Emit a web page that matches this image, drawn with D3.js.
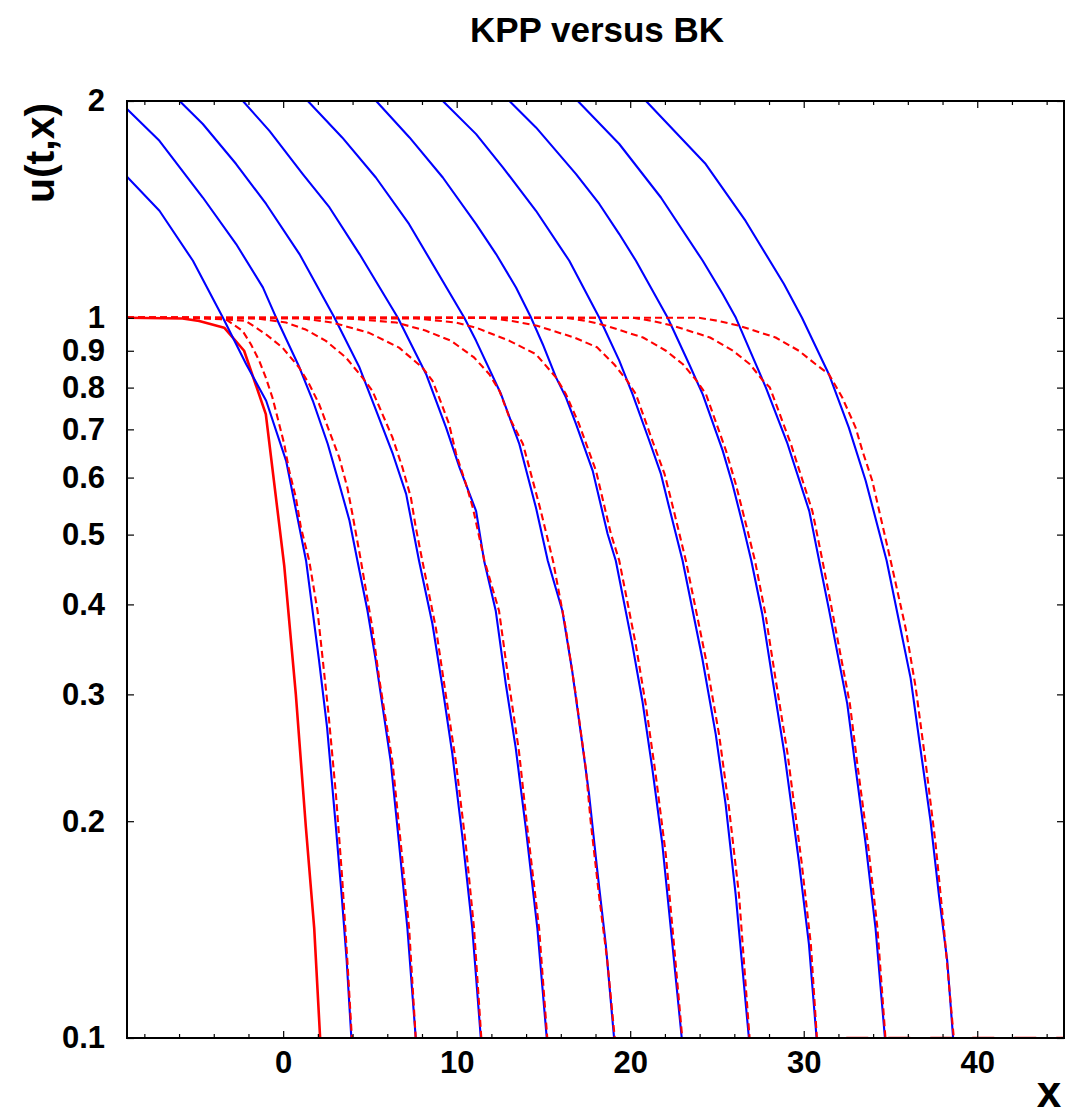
<!DOCTYPE html>
<html><head><meta charset="utf-8">
<script src="https://cdn.jsdelivr.net/npm/d3@7"></script>
<style>
body{margin:0;background:#fff}
svg{display:block}
text{font-family:"Liberation Sans",Arial,Helvetica,sans-serif;font-weight:bold;fill:#000}
</style>
</head><body>
<svg id="chart" width="1070" height="1119"></svg>
<script>
// ---------- data ----------
const titleText = "KPP versus BK";
const xLabelText = "x";
const yLabelText = "u(t,x)";
const xMajorTicks = [0, 10, 20, 30, 40];
const xMinorTicks = [-8, -6, -4, -2, 2, 4, 6, 8, 12, 14, 16, 18, 22, 24, 26, 28, 32, 34, 36, 38, 42, 44];
const yTicks = [0.1, 0.2, 0.3, 0.4, 0.5, 0.6, 0.7, 0.8, 0.9, 1, 2];

// initial condition (red solid)
const initialCondition = [[-9,1.0],[-5.8,0.998],[-4.84,0.99],[-3.4,0.969],[-2.25,0.9],[-1.0,0.735],[0.06,0.453],[0.73,0.30],[1.31,0.196],[1.79,0.142],[2.13,0.1]];

// BK solutions (blue solid)
const bk1 = [[-9,1.57],[-7.13,1.408],[-5.2,1.2],[-3.47,1.0],[-2.13,0.862],[-0.98,0.767],[0.17,0.633],[1.32,0.46],[2.07,0.334],[2.53,0.27],[3.04,0.196],[3.37,0.158],[3.66,0.128],[3.93,0.1]];
const bk2 = [[-9,1.95],[-7.13,1.761],[-4.63,1.469],[-2.71,1.266],[-1.17,1.102],[-0.4,1.0],[0.94,0.853],[1.71,0.767],[2.57,0.668],[3.24,0.587],[3.82,0.523],[4.28,0.46],[4.86,0.392],[5.34,0.334],[6.2,0.242],[6.68,0.186],[7.16,0.142],[7.64,0.1]];
const bk3 = [[-5.97,2.0],[-4.63,1.858],[-2.71,1.635],[-0.98,1.439],[0.94,1.226],[2.96,1.0],[4.4,0.853],[5.36,0.743],[6.32,0.647],[7.09,0.569],[7.83,0.46],[8.6,0.376],[9.18,0.307],[9.75,0.248],[10.33,0.19],[10.9,0.142],[11.39,0.1]];
const bk4 = [[-2.32,2.0],[-0.79,1.818],[1.13,1.583],[2.67,1.423],[4.4,1.226],[6.61,1.0],[8.24,0.835],[9.39,0.704],[10.16,0.62],[11.12,0.539],[11.58,0.46],[12.25,0.392],[12.83,0.31],[13.4,0.253],[13.98,0.196],[14.65,0.142],[15.19,0.1]];
const bk5 = [[1.42,2.0],[3.4,1.78],[5.34,1.566],[7.26,1.349],[10.44,1.0],[11.12,0.929],[12.56,0.783],[13.61,0.668],[14.57,0.545],[15.25,0.46],[16.09,0.392],[16.66,0.323],[17.24,0.256],[17.63,0.218],[18.1,0.171],[18.59,0.135],[19.07,0.1]];
const bk6 = [[5.36,2.0],[7.28,1.78],[9.2,1.566],[11.12,1.349],[12.27,1.226],[13.42,1.102],[14.29,1.0],[14.96,0.919],[15.73,0.826],[16.3,0.775],[16.88,0.712],[17.84,0.613],[18.7,0.501],[19.17,0.46],[20.12,0.352],[20.7,0.294],[21.27,0.237],[21.85,0.186],[22.43,0.135],[22.97,0.1]];
const bk7 = [[9.2,2.0],[11.12,1.799],[12.66,1.618],[14.57,1.408],[16.49,1.2],[18.22,1.0],[19.37,0.872],[20.14,0.783],[21.1,0.675],[21.77,0.607],[22.25,0.545],[23.02,0.46],[24.15,0.337],[24.93,0.264],[25.5,0.211],[26.08,0.158],[26.84,0.1]];
const bk8 = [[13.04,2.0],[14.57,1.838],[16.88,1.583],[18.22,1.439],[19.37,1.307],[20.33,1.2],[22.16,1.0],[23.4,0.862],[24.18,0.783],[25.33,0.654],[25.9,0.587],[26.48,0.517],[26.98,0.46],[27.61,0.388],[28.19,0.316],[28.89,0.248],[29.72,0.176],[30.3,0.135],[30.74,0.1]];
const bk9 = [[16.98,2.0],[19.37,1.743],[21.77,1.469],[24.18,1.2],[25.33,1.079],[26.09,1.0],[27.82,0.8],[29.07,0.668],[30.32,0.539],[30.89,0.46],[31.45,0.394],[32.51,0.291],[32.99,0.237],[33.57,0.186],[34.14,0.142],[34.68,0.1]];
const bk10 = [[20.91,2.0],[24.35,1.635],[26.65,1.363],[28.86,1.114],[29.9,1.0],[31.45,0.835],[32.6,0.704],[33.57,0.594],[34.78,0.46],[36.16,0.316],[36.83,0.242],[37.31,0.2],[37.79,0.158],[38.27,0.128],[38.61,0.1]];

// KPP solutions (red dashed)
const kpp1 = [[-9,1.0],[-5.5,1.0],[-3.3,0.995],[-2.34,0.959],[-1.86,0.919],[-1.38,0.872],[-1.0,0.826],[-0.62,0.775],[-0.23,0.712],[0.06,0.668],[0.35,0.613],[0.73,0.563],[1.02,0.512],[1.5,0.46],[1.98,0.392],[2.6,0.284],[3.04,0.218],[3.4,0.167],[3.7,0.128],[3.96,0.1]];
const kpp2 = [[-9,1.0],[-4.5,1.0],[-2.15,0.99],[-1.0,0.949],[-0.04,0.909],[0.92,0.853],[1.5,0.809],[2.07,0.759],[2.65,0.697],[3.23,0.64],[3.7,0.581],[3.99,0.534],[4.48,0.46],[5.14,0.371],[5.53,0.316],[6.3,0.242],[6.78,0.186],[7.26,0.142],[7.64,0.1]];
const kpp3 = [[-9,1.0],[-1.5,0.998],[0.16,0.985],[1.3,0.963],[2.46,0.929],[3.61,0.881],[4.57,0.826],[5.14,0.792],[5.72,0.735],[6.3,0.682],[6.87,0.62],[7.36,0.563],[7.64,0.512],[8.02,0.46],[8.8,0.371],[9.37,0.3],[9.95,0.242],[10.52,0.186],[11.0,0.142],[11.42,0.1]];
const kpp4 = [[-9,1.0],[1.0,0.999],[2.84,0.985],[4.95,0.953],[6.68,0.909],[8.02,0.853],[8.6,0.818],[8.99,0.775],[9.56,0.712],[9.97,0.647],[10.54,0.587],[10.93,0.545],[11.6,0.46],[12.44,0.392],[13.02,0.31],[13.59,0.25],[14.07,0.196],[14.75,0.142],[15.22,0.1]];
const kpp5 = [[-9,1.0],[3.5,0.999],[6.51,0.985],[8.2,0.96],[9.68,0.929],[11.0,0.881],[11.88,0.835],[12.46,0.792],[13.04,0.727],[13.82,0.668],[14.8,0.545],[15.55,0.46],[16.28,0.371],[16.86,0.3],[17.44,0.237],[17.72,0.2],[18.2,0.158],[18.68,0.128],[19.11,0.1]];
const kpp6 = [[-9,1.0],[7.66,0.998],[9.97,0.985],[11.12,0.969],[13.04,0.929],[14.57,0.89],[15.73,0.826],[16.3,0.783],[17.05,0.712],[18.03,0.613],[18.89,0.501],[19.37,0.46],[20.32,0.352],[20.89,0.291],[21.47,0.232],[22.05,0.18],[22.52,0.135],[23.0,0.1]];
const kpp7 = [[-9,1.0],[11.75,1.0],[13.19,0.99],[14.63,0.975],[16.76,0.939],[18.09,0.91],[19.07,0.862],[19.82,0.818],[20.33,0.783],[21.28,0.675],[21.98,0.607],[22.47,0.545],[23.21,0.46],[24.35,0.337],[25.12,0.264],[25.69,0.209],[26.27,0.158],[26.88,0.1]];
const kpp8 = [[-9,1.0],[16.3,1.0],[17.5,0.99],[18.61,0.975],[20.74,0.939],[22.06,0.9],[23.04,0.862],[23.79,0.82],[24.37,0.783],[25.52,0.654],[26.09,0.587],[26.67,0.517],[27.19,0.46],[27.79,0.388],[28.37,0.316],[29.07,0.248],[29.87,0.176],[30.41,0.135],[30.76,0.1]];
const kpp9 = [[-9,1.0],[20.16,1.0],[21.3,0.99],[22.47,0.975],[24.6,0.939],[25.92,0.9],[26.9,0.862],[27.65,0.818],[28.05,0.8],[29.26,0.668],[30.5,0.539],[31.08,0.46],[31.62,0.394],[32.66,0.291],[33.12,0.237],[33.7,0.186],[34.25,0.142],[34.71,0.1]];
const kpp10 = [[-9,1.0],[23.96,1.0],[25.1,0.99],[26.27,0.975],[28.38,0.939],[29.72,0.9],[30.69,0.862],[31.45,0.835],[32.22,0.775],[32.99,0.704],[33.38,0.654],[33.95,0.594],[35.01,0.46],[35.87,0.371],[36.45,0.307],[37.02,0.242],[37.6,0.186],[38.08,0.142],[38.65,0.1]];
const kppFloor = [[31.3,0.1],[45,0.1]];

const bkCurves = [bk1, bk2, bk3, bk4, bk5, bk6, bk7, bk8, bk9, bk10];
const kppCurves = [kpp1, kpp2, kpp3, kpp4, kpp5, kpp6, kpp7, kpp8, kpp9, kpp10];

// ---------- drawing ----------
const L = 127, R = 1064, T = 101, B = 1038;
const x = d3.scaleLinear().domain([-9, 45]).range([L, R]);
const y = d3.scaleLog().domain([0.1, 2]).range([B, T]);
const svg = d3.select('#chart');
svg.append('rect').attr('width',1070).attr('height',1119).attr('fill','#fff');

svg.append('defs').append('clipPath').attr('id','clip')
  .append('rect').attr('x',L).attr('y',T-1).attr('width',R-L).attr('height',B-T+2);

const line = d3.line().x(d => x(d[0])).y(d => y(d[1]));
const plot = svg.append('g').attr('clip-path','url(#clip)');

plot.append('path').datum(initialCondition).attr('d', line)
  .attr('fill','none').attr('stroke','#ff0000').attr('stroke-width',2.6).attr('stroke-linejoin','round');

plot.selectAll('path.bk').data(bkCurves).enter().append('path').attr('class','bk')
  .attr('d', line).attr('fill','none').attr('stroke','#0000ff').attr('stroke-width',2.1).attr('stroke-linejoin','round');

plot.selectAll('path.kpp').data(kppCurves).enter().append('path').attr('class','kpp')
  .attr('d', line).attr('fill','none').attr('stroke','#ff0000').attr('stroke-width',2.1)
  .attr('stroke-linejoin','round').attr('stroke-dasharray','7,4');

plot.append('path').datum(kppFloor).attr('d', line)
  .attr('fill','none').attr('stroke','#ff0000').attr('stroke-width',2.4)
  .attr('stroke-dasharray','22,20').attr('stroke-dashoffset',-20);

// axes
function style(g, fs){
  g.select('.domain').remove();
  g.selectAll('.tick line').attr('stroke','#000').attr('stroke-width',1.2);
  g.selectAll('text').attr('font-size',fs).attr('font-family','"Liberation Sans",Arial,sans-serif').attr('font-weight','bold').attr('fill','#000');
  g.attr('font-size',null).attr('font-family',null);
}
const fs = 31;
svg.append('g').attr('transform',`translate(0,${B})`)
  .call(d3.axisBottom(x).tickValues(xMajorTicks).tickSizeInner(-7).tickSizeOuter(0).tickPadding(13).tickFormat(d3.format('d')))
  .call(g => style(g, fs));
svg.append('g').attr('transform',`translate(0,${B})`)
  .call(d3.axisBottom(x).tickValues(xMinorTicks).tickSizeInner(-4).tickSizeOuter(0).tickFormat(''))
  .call(g => style(g, fs));
svg.append('g').attr('transform',`translate(0,${T})`)
  .call(d3.axisTop(x).tickValues(xMajorTicks).tickSizeInner(-7).tickSizeOuter(0).tickFormat(''))
  .call(g => style(g, fs));
svg.append('g').attr('transform',`translate(0,${T})`)
  .call(d3.axisTop(x).tickValues(xMinorTicks).tickSizeInner(-4).tickSizeOuter(0).tickFormat(''))
  .call(g => style(g, fs));
svg.append('g').attr('transform',`translate(${L},0)`)
  .call(d3.axisLeft(y).tickValues(yTicks).tickSizeInner(-7).tickSizeOuter(0).tickPadding(22).tickFormat(d => String(d)))
  .call(g => style(g, fs));
svg.append('g').attr('transform',`translate(${R},0)`)
  .call(d3.axisRight(y).tickValues(yTicks).tickSizeInner(-7).tickSizeOuter(0).tickFormat(''))
  .call(g => style(g, fs));

// frame
svg.append('rect').attr('x',L).attr('y',T).attr('width',R-L).attr('height',B-T)
  .attr('fill','none').attr('stroke','#000').attr('stroke-width',2);

// titles
svg.append('text').attr('x',597).attr('y',42).attr('text-anchor','middle').attr('font-size',35).text(titleText);
svg.append('text').attr('transform','translate(54,153) rotate(-90)').attr('text-anchor','middle').attr('font-size',41).text(yLabelText);
svg.append('text').attr('x',1049).attr('y',1107).attr('text-anchor','middle').attr('font-size',44).text(xLabelText);
</script>
</body></html>
